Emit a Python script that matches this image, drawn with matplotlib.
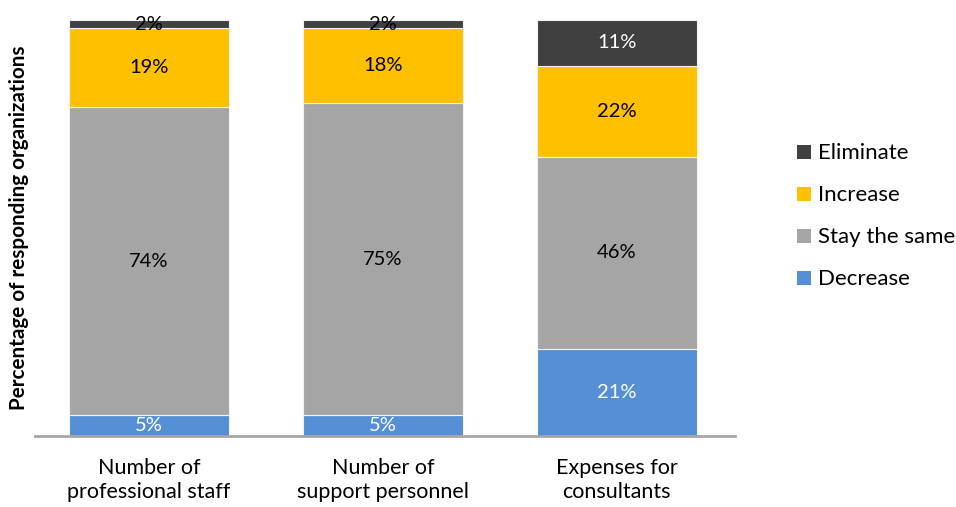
import numpy as np
import matplotlib
matplotlib.use("Agg")
import matplotlib.pyplot as plt
from matplotlib.patches import Patch

plt.rcParams['font.family'] = ['Lato', 'DejaVu Sans']

categories = ["Number of\nprofessional staff", "Number of\nsupport personnel", "Expenses for\nconsultants"]
decrease = [5, 5, 21]
stay_same = [74, 75, 46]
increase = [19, 18, 22]
eliminate = [2, 2, 11]

series = [
    ("Decrease", decrease, "#5590D6", "white"),
    ("Stay the same", stay_same, "#A5A5A5", "black"),
    ("Increase", increase, "#FFC000", "black"),
    ("Eliminate", eliminate, "#404040", "white"),
]

fig = plt.figure(figsize=(9.56, 5.07), dpi=100)
ax = fig.add_axes([0.0366, 0.140, 0.732, 0.8205])

x = np.arange(len(categories))
bottom = np.zeros(len(categories))
for name, vals, color, txt in series:
    vals = np.array(vals, dtype=float)
    ax.bar(x, vals, 0.684, bottom=bottom, color=color, edgecolor="#F2F2F2",
           linewidth=0.8, label=name)
    for xi, b, v in zip(x, bottom, vals):
        # thin top segments get a dark label that spills over the bar top
        c = txt if v >= 5 else "black"
        ax.text(xi, b + v / 2, f"{int(v)}%", ha="center", va="center",
                fontsize=14.5, color=c)
    bottom += vals

ax.set_xlim(-0.487, 2.504)
ax.set_ylim(0, 100)
ax.set_xticks(x)
ax.set_xticklabels(categories, fontsize=15.5, linespacing=1.25)
ax.tick_params(axis="x", length=0, pad=16)
ax.set_yticks([])
for s in ["top", "right", "left"]:
    ax.spines[s].set_visible(False)
ax.spines["bottom"].set_color("#A6A6A6")
ax.spines["bottom"].set_linewidth(2)
ax.set_ylabel("Percentage of responding organizations", fontsize=14.9,
              fontweight="bold")
ax.yaxis.set_label_coords(-0.009, 0.5)

handles = [Patch(facecolor=c, label=n) for n, _, c, _ in series][::-1]
fig.legend(handles=handles, loc="center left", bbox_to_anchor=(0.834, 0.573),
           frameon=False, fontsize=16, handlelength=0.6, handleheight=0.6,
           handletextpad=0.35, labelspacing=0.99, borderpad=0,
           borderaxespad=0)

fig.savefig("out.png", dpi=100)
